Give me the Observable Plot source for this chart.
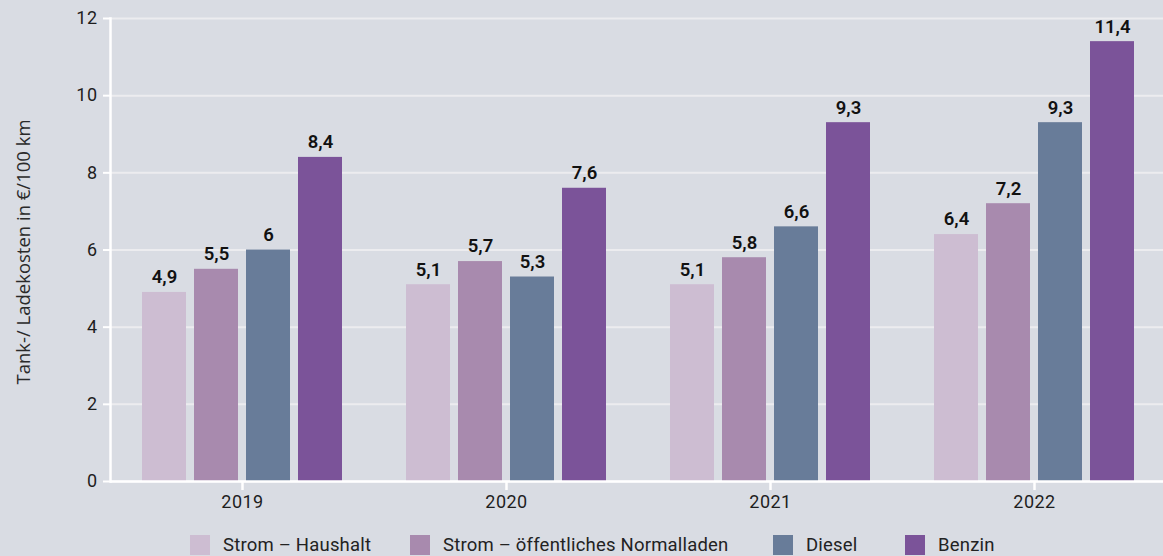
<!DOCTYPE html>
<html><head><meta charset="utf-8">
<script src="https://cdn.jsdelivr.net/npm/d3@7"></script>
<script src="https://cdn.jsdelivr.net/npm/@observablehq/plot@0.6"></script>
<style>
html,body{margin:0;padding:0;background:#d9dce3;}
#wrap{position:relative;width:1163px;height:556px;background:#d9dce3;font-family:Roboto,"Open Sans",sans-serif;overflow:hidden;}
#wrap svg{display:block;max-width:none !important;}
.item{position:absolute;top:534px;display:flex;align-items:center;font-size:18.5px;color:#222;white-space:nowrap;letter-spacing:0.2px;}
.sw{width:20px;height:20px;margin-right:13px;}
#ylab{position:absolute;left:22px;top:252px;transform:translate(-50%,-50%) rotate(-90deg);font-family:"Open Sans",sans-serif;font-size:18.5px;color:#2a2a2a;white-space:nowrap;}
</style></head>
<body><div id="wrap"></div>
<script>
const years = ["2019", "2020", "2021", "2022"];
const series = ["Strom – Haushalt", "Strom – öffentliches Normalladen", "Diesel", "Benzin"];
const colors = ["#cdbdd2", "#a88aae", "#687c99", "#7b5399"];
const stromHaushalt = [4.9, 5.1, 5.1, 6.4];
const stromOeffentlich = [5.5, 5.7, 5.8, 7.2];
const diesel = [6, 5.3, 6.6, 9.3];
const benzin = [8.4, 7.6, 9.3, 11.4];
const yTicks = [0, 2, 4, 6, 8, 10, 12];
const yTitle = "Tank-/ Ladekosten in €/100 km";
const legendLeft = [190, 410, 773, 905];

const seriesValues = [stromHaushalt, stromOeffentlich, diesel, benzin];
const data = [];
years.forEach((yr, i) => {
  series.forEach((s, j) => {
    const v = seriesValues[j][i];
    data.push({year: yr, series: s, value: v, label: String(v).replace(".", ",")});
  });
});

const chart = Plot.plot({
  width: 1166,
  height: 522,
  marginLeft: 110,
  marginRight: 0,
  marginTop: 18,
  marginBottom: 41,
  style: {background: "transparent", fontFamily: "Roboto, 'Open Sans', sans-serif", fontSize: "17px", color: "#1e1e1e", maxWidth: "none"},
  fx: {domain: years, padding: 0, label: null},
  x: {domain: series, paddingInner: 0.146, paddingOuter: 0.58, axis: null},
  y: {domain: [0, 12], label: null},
  color: {domain: series, range: colors},
  marks: [
    Plot.gridY(yTicks, {stroke: "#ececef", strokeOpacity: 1, strokeWidth: 2}),
    Plot.barY(data, {fx: "year", x: "series", y: "value", fill: "series"}),
    Plot.text(data, {fx: "year", x: "series", y: "value", text: "label", dy: -15, fontWeight: 600, fontSize: 18.5, fill: "#111", style: "letter-spacing:1px"}),
    Plot.ruleY([0], {stroke: "white", strokeWidth: 2.5}),
    Plot.frame({anchor: "left", facetAnchor: "left", stroke: "white", strokeWidth: 2.5}),
    Plot.axisY(yTicks, {tickSize: 7, stroke: "white", strokeWidth: 2, tickPadding: 6, fontSize: 18, fill: "#1e1e1e", label: null}),
    Plot.axisFx({anchor: "bottom", tickSize: 9, stroke: "white", strokeWidth: 2.5, tickPadding: 5, fontSize: 18, fill: "#1e1e1e", label: null})
  ]
});

const wrap = document.getElementById("wrap");
wrap.appendChild(chart);
chart.style.maxWidth = "none";
wrap.querySelectorAll("svg text").forEach(t => { if (!t.closest("[aria-label='text']")) t.style.letterSpacing = "0.5px"; });
const yl = document.createElement("div");
yl.id = "ylab";
yl.textContent = yTitle;
wrap.appendChild(yl);
series.forEach((s, j) => {
  const it = document.createElement("div");
  it.className = "item";
  it.style.left = legendLeft[j] + "px";
  const sw = document.createElement("div");
  sw.className = "sw";
  sw.style.background = colors[j];
  const t = document.createElement("span");
  t.textContent = s;
  it.appendChild(sw);
  it.appendChild(t);
  wrap.appendChild(it);
});
</script>
</body></html>
